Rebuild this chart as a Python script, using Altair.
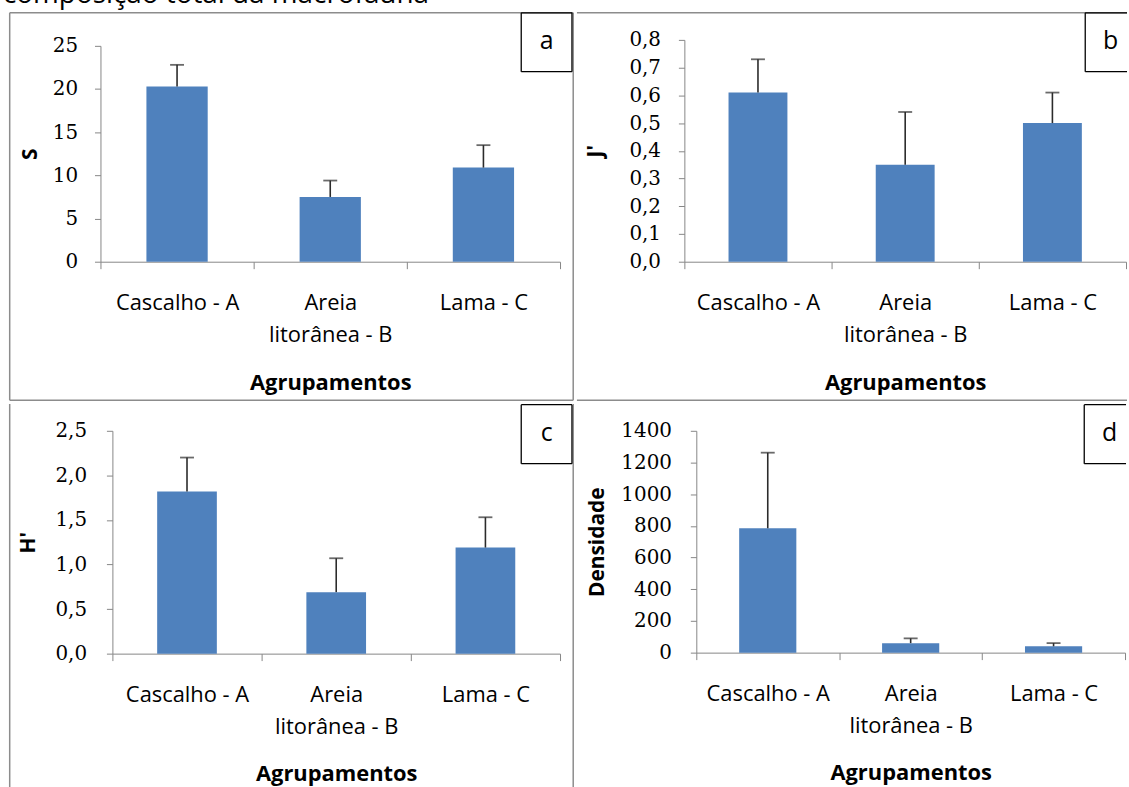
import altair as alt
import pandas as pd

# ---------------- data ----------------
categories = ["Cascalho - A", "Areia litorânea - B", "Lama - C"]

s_mean = [20.3, 7.5, 10.9]
s_top = [22.8, 9.4, 13.5]

j_mean = [0.61, 0.35, 0.50]
j_top = [0.73, 0.54, 0.61]

h_mean = [1.82, 0.69, 1.19]
h_top = [2.20, 1.07, 1.53]

d_mean = [785, 60, 40]
d_top = [1262, 90, 60]

s_ticks = [0, 5, 10, 15, 20, 25]
j_ticks = [0.0, 0.1, 0.2, 0.3, 0.4, 0.5, 0.6, 0.7, 0.8]
h_ticks = [0.0, 0.5, 1.0, 1.5, 2.0, 2.5]
d_ticks = [0, 200, 400, 600, 800, 1000, 1200, 1400]

letters = ["a", "b", "c", "d"]
y_titles = ["S", "J'", "H'", "Densidade"]
x_title = "Agrupamentos"
top_text = "composição total da macrofauna"

BAR = "#4F81BD"
AX = "#868686"
EDGE = "#8C8C8C"
ERR = "#2b2b2b"
SANS = "Open Sans"
one = pd.DataFrame({"k": [0]})


def rule(x1, x2, y1, y2, color=EDGE, sw=1.5):
    return alt.Chart(one).mark_rule(color=color, strokeWidth=sw).encode(
        x=alt.value(x1), x2=alt.value(x2), y=alt.value(y1), y2=alt.value(y2)
    )


def panel(means, tops, ticks, decimals, letter, ytitle, vw, vh, xr, yr, ytx, ylabpad,
          edges, box):
    df = pd.DataFrame({"cat": categories, "mean": means, "top": tops})
    if decimals:
        lab = "replace(format(datum.value, '.1f'), '.', ',')"
    else:
        lab = "format(datum.value, 'd')"
    x_axis = alt.Axis(
        title=x_title, labelAngle=0, labelFont=SANS, labelFontSize=22,
        labelColor="black", labelBaseline="alphabetic", labelPadding=41,
        labelLineHeight=32, labelLimit=400,
        labelExpr="datum.value == 'Areia litorânea - B' ? ['Areia', 'litorânea - B'] : datum.label",
        tickBand="extent", tickSize=7, tickColor=AX, domainColor=AX,
        titleFont=SANS, titleFontSize=22, titleFontWeight="bold", titleColor="black",
        titleBaseline="alphabetic", titleY=128, offset=-(vh - yr[0]),
    )
    x_enc = alt.X("cat:N", sort=categories,
                  scale=alt.Scale(paddingInner=0, paddingOuter=0, range=xr), axis=x_axis)
    y_axis = alt.Axis(
        values=ticks, labelExpr=lab, labelFont="DejaVu Serif", labelFontSize=20,
        labelColor="black", labelPadding=ylabpad, labelOverlap=False, tickSize=6,
        tickColor=AX, domainColor=AX, grid=False, title=ytitle, titleFont=SANS,
        titleFontSize=21, titleFontWeight="bold", titleColor="black",
        titleAngle=270, titleX=ytx, titleY=(yr[0] + yr[1]) / 2, titleAlign="center",
        titleBaseline="middle", offset=-xr[0],
    )
    y_enc = alt.Y("mean:Q", scale=alt.Scale(domain=[ticks[0], ticks[-1]], nice=False,
                                             range=yr), axis=y_axis)
    base = alt.Chart(df)
    bars = base.mark_bar(color=BAR, width=alt.RelativeBandSize(0.4)).encode(x=x_enc, y=y_enc)
    err = base.mark_rule(color=ERR, strokeWidth=1.6).encode(
        x=alt.X("cat:N", sort=categories), y=alt.Y("mean:Q"), y2="top:Q")
    cap = base.mark_tick(color=ERR, thickness=1.8, size=14).encode(
        x=alt.X("cat:N", sort=categories), y=alt.Y("top:Q"))
    layers = [rule(*e) for e in edges]
    bx1, bx2, by1, by2, sides = box
    bl = []
    if "l" in sides:
        bl.append(rule(bx1, bx1, by1, by2, "black", 1.3))
    if "r" in sides:
        bl.append(rule(bx2, bx2, by1, by2, "black", 1.3))
    bl.append(rule(bx1, bx2, by1, by1, "black", 1.3))
    bl.append(rule(bx1, bx2, by2, by2, "black", 1.3))
    cx = (bx1 + 51 / 2) if "r" not in sides else (bx1 + bx2) / 2
    boxt = alt.Chart(one).mark_text(font=SANS, fontSize=25, color="black",
                                    align="center", baseline="middle").encode(
        x=alt.value(cx), y=alt.value((by1 + by2) / 2 - 1), text=alt.value(letter))
    return alt.layer(*layers, bars, err, cap, *bl, boxt).properties(width=vw, height=vh)


# panel a: page origin (0, 11), view 576 x 391
pa = panel(s_mean, s_top, s_ticks, False, letters[0], y_titles[0], 576, 391,
           [100, 562], [251, 34], -70, 17,
           [(8.75, 575.25, 0.75, 0.75), (8.75, 575.25, 390.25, 390.25),
            (8.75, 8.75, 0.75, 390.25), (575.25, 575.25, 0.75, 390.25)],
           (523, 574, 0.75, 60, "lr"))
# panel b: page origin (576, 11), view 553 x 391
pb = panel(j_mean, j_top, j_ticks, True, letters[1], y_titles[1], 553, 391,
           [108, 552], [251, 28], -89, 18,
           [(0, 553, 0.75, 0.75), (0, 553, 390.25, 390.25)],
           (511, 553, 0.75, 60, "l"))
# panel c: page origin (0, 402), view 576 x 385
pc = panel(h_mean, h_top, h_ticks, True, letters[2], y_titles[2], 576, 385,
           [112, 562], [251, 27], -84, 20,
           [(8.75, 8.75, 0, 385), (575.25, 575.25, 0, 385)],
           (523, 574, 0.75, 60, "lr"))
# panel d: page origin (576, 402), view 553 x 385
pd_ = panel(d_mean, d_top, d_ticks, False, letters[3], y_titles[3], 553, 385,
            [121, 552], [250, 27], -99, 19,
            [],
            (511, 553, 0.75, 60, "l"))

strip = alt.Chart(one).mark_text(
    font=SANS, fontSize=28, align="left", baseline="alphabetic", color="black"
).encode(x=alt.value(2), y=alt.value(29), text=alt.value(top_text)).properties(width=1129, height=36)

row1 = alt.hconcat(pa, pb, spacing=0)
row2 = alt.hconcat(pc, pd_, spacing=0)

chart = alt.vconcat(strip, row1, row2, spacing=0).configure_view(
    stroke="transparent"
).properties(padding={"left": 0, "top": -29, "right": 0, "bottom": 0})

chart.save("out.html", embed_options={"renderer": "svg", "actions": False})
